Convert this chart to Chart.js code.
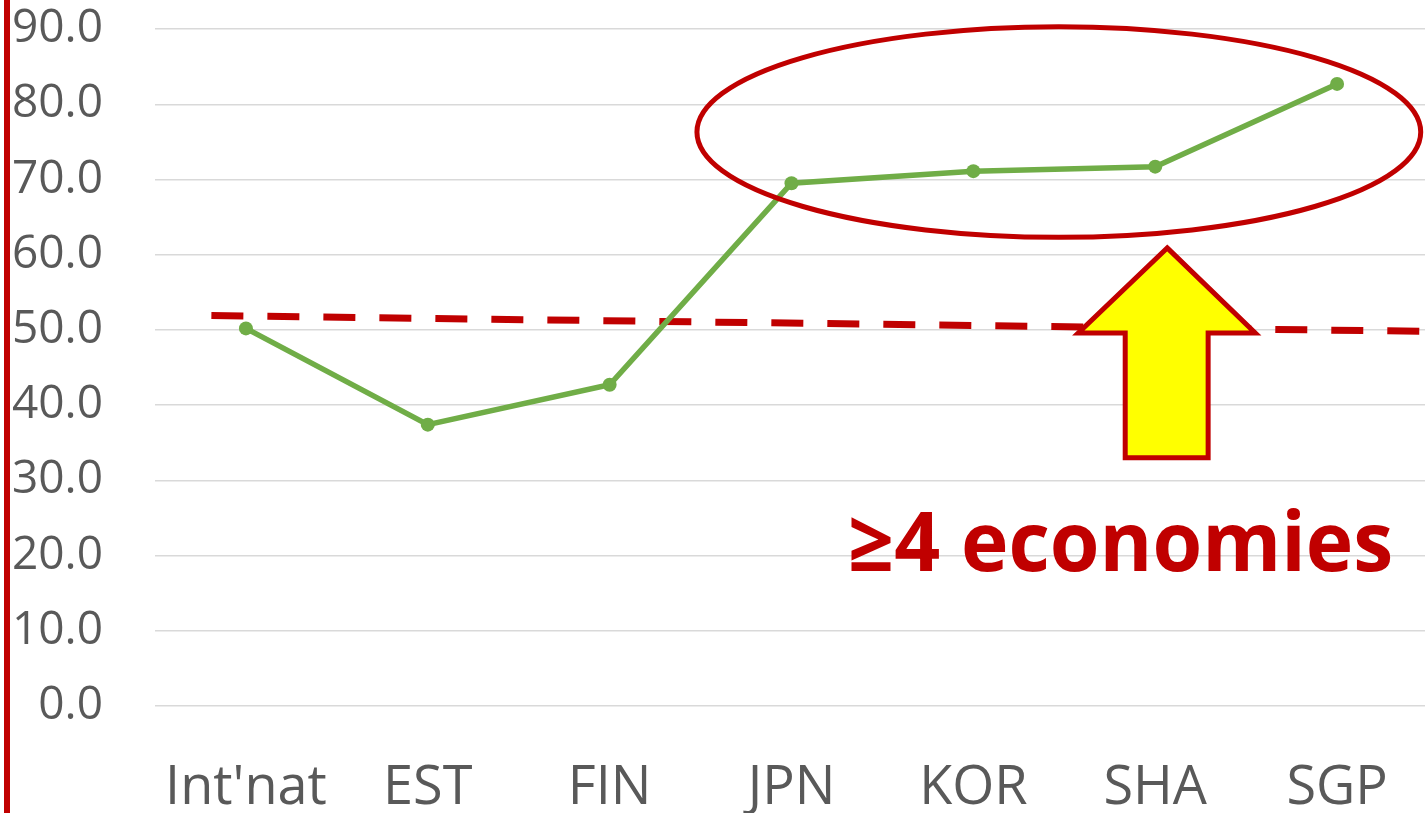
<!DOCTYPE html>
<html>
<head>
<meta charset="utf-8">
<script src="https://cdn.jsdelivr.net/npm/chart.js@4/dist/chart.umd.min.js"></script>
<style>
  html, body { margin: 0; padding: 0; background: #fff; overflow: hidden; }
  #wrap { width: 1435px; height: 813px; }
</style>
</head>
<body>
<div id="wrap"><canvas id="linechart" width="1435" height="813"></canvas></div>
<script>
const categories = ["Int'nat", 'EST', 'FIN', 'JPN', 'KOR', 'SHA', 'SGP'];
const scores = [50.2, 37.4, 42.7, 69.5, 71.1, 71.7, 82.7];
const yTicks = [0, 10, 20, 30, 40, 50, 60, 70, 80, 90];
// dashed reference line, x in category units
const refLineX = [-0.19, 6.5];
const refLineY = [51.9, 49.8];

const red = '#C00000';
const green = '#70AD47';

// annotation shapes, in data units (x = category index, y = value)
const notes = {
    ellipse: { cx: 4.47, cy: 76.3, rx: 1.99, ry: 14.0 },
    arrow: { tipX: 5.066, tipY: 60.9, headL: 4.577, headR: 5.55, headY: 49.6, shaftL: 4.835, shaftR: 5.291, bottomY: 33.0 },
    label: { x: 4.81, y: 17.95, text: '\u22654 economies' }
};

const annotate = {
    id: 'annotate',
    beforeDraw(chart) {
        const c = chart.ctx;
        c.save();
        c.fillStyle = red;
        c.fillRect(4, 0, 6, chart.height);   // red bar on the left edge
        c.restore();
    },
    afterDatasetsDraw(chart) {
        const c = chart.ctx;
        const xs = chart.scales.x2, ys = chart.scales.y;
        const px = v => xs.getPixelForValue(v);
        const py = v => ys.getPixelForValue(v);
        c.save();

        // ellipse
        const e = notes.ellipse;
        const ecx = px(e.cx), ecy = py(e.cy);
        const erx = px(e.cx + e.rx) - ecx, ery = py(e.cy - e.ry) - ecy;
        c.beginPath();
        c.ellipse(ecx, ecy, erx, ery, 0, 0, Math.PI * 2);
        c.strokeStyle = red;
        c.lineWidth = 5;
        c.stroke();

        // arrow
        const a = notes.arrow;
        c.beginPath();
        c.moveTo(px(a.tipX), py(a.tipY));
        c.lineTo(px(a.headR), py(a.headY));
        c.lineTo(px(a.shaftR), py(a.headY));
        c.lineTo(px(a.shaftR), py(a.bottomY));
        c.lineTo(px(a.shaftL), py(a.bottomY));
        c.lineTo(px(a.shaftL), py(a.headY));
        c.lineTo(px(a.headL), py(a.headY));
        c.closePath();
        c.fillStyle = '#FFFF00';
        c.fill();
        c.lineWidth = 5;
        c.lineJoin = 'miter';
        c.strokeStyle = red;
        c.stroke();

        // label
        const l = notes.label;
        c.font = 'bold 82px "Open Sans"';
        c.fillStyle = red;
        c.textAlign = 'center';
        c.textBaseline = 'alphabetic';
        c.fillText(l.text, px(l.x), py(l.y), 545);
        c.restore();
    }
};

const ctx = document.getElementById('linechart').getContext('2d');
const linechart = new Chart(ctx, {
    type: 'line',
    data: {
        labels: categories,
        datasets: [{
            label: 'score',
            data: scores,
            borderColor: green,
            backgroundColor: green,
            borderWidth: 5.5,
            pointRadius: 7,
            pointBorderWidth: 0,
            pointBackgroundColor: green,
            tension: 0
        }, {
            label: 'reference',
            xAxisID: 'x2',
            data: refLineX.map((x, i) => ({ x: x, y: refLineY[i] })),
            borderColor: red,
            borderWidth: 7,
            borderDash: [32, 24],
            pointRadius: 0,
            tension: 0
        }]
    },
    plugins: [annotate],
    options: {
        responsive: false,
        animation: false,
        layout: { padding: { left: 0, right: 0, top: 29, bottom: 0 } },
        plugins: {
            legend: { display: false },
            tooltip: { enabled: false }
        },
        scales: {
            x: {
                type: 'category',
                offset: true,
                grid: { display: false, drawTicks: false },
                border: { display: false },
                ticks: {
                    color: '#595959',
                    font: { family: '"Open Sans"', size: 54 },
                    padding: 50,
                    maxRotation: 0,
                    autoSkip: false
                },
                afterFit(scale) {
                    scale.height = 107;
                    scale.paddingLeft = 0;
                    scale.paddingRight = 0;
                }
            },
            x2: {
                type: 'linear',
                display: false,
                min: -0.5,
                max: 6.5
            },
            y: {
                min: 0,
                max: 90,
                afterBuildTicks(scale) { scale.ticks = yTicks.map(v => ({ value: v })); },
                grid: { color: '#d9d9d9', lineWidth: 1.4, drawTicks: false },
                border: { display: false },
                ticks: {
                    color: '#595959',
                    font: { family: '"Open Sans"', size: 46 },
                    padding: 52,
                    callback: v => v.toFixed(1)
                },
                afterFit(scale) {
                    scale.width = 155;
                    scale.paddingTop = 0;
                    scale.paddingBottom = 0;
                }
            }
        }
    }
});
</script>
</body>
</html>
